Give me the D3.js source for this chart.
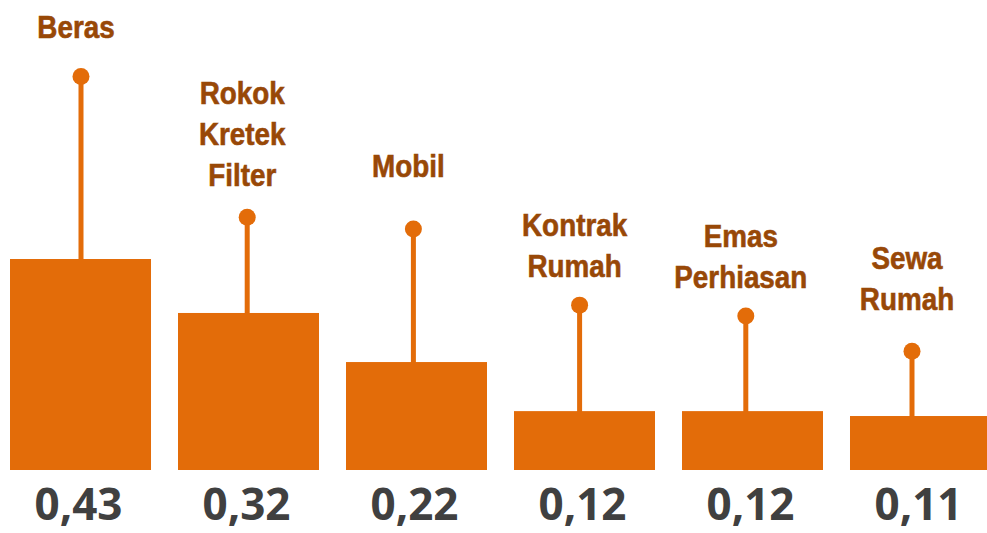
<!DOCTYPE html>
<html>
<head>
<meta charset="utf-8">
<script src="https://cdn.jsdelivr.net/npm/d3@7"></script>
<style>
  html, body { margin: 0; padding: 0; background: #fff; }
  svg { display: block; }
</style>
</head>
<body>
<svg id="chart"></svg>
<script>
// Constant Values
const width = 987;
const height = 533;

// Data
const categories = ["Beras", "Rokok Kretek Filter", "Mobil", "Kontrak Rumah", "Emas Perhiasan", "Sewa Rumah"];
const labelLines = [["Beras"], ["Rokok", "Kretek", "Filter"], ["Mobil"], ["Kontrak", "Rumah"], ["Emas", "Perhiasan"], ["Sewa", "Rumah"]];
const values = [0.43, 0.32, 0.22, 0.12, 0.12, 0.11];
const valueLabels = ["0,43", "0,32", "0,22", "0,12", "0,12", "0,11"];
// heights of the pin heads and of the label baselines, in the same units as values
const pinLevels = [0.802, 0.515, 0.491, 0.336, 0.314, 0.242];
const labelLevels = [0.88, 0.578, 0.597, 0.393, 0.371, 0.326];

const barColor = "#E36C09";
const labelColor = "#984807";
const valueColor = "#404040";

const svg = d3.select("#chart")
    .attr("width", width)
    .attr("height", height);

// Scales
const xScale = d3.scaleBand()
    .domain(categories)
    .range([10, 991])
    .paddingInner(0.1607)
    .paddingOuter(0);

const pinScale = d3.scalePoint()
    .domain(categories)
    .range([81, 912]);

const yScale = d3.scaleLinear()
    .domain([0, 0.43])
    .range([470, 259]);

const rows = categories.map((c, i) => ({
    cat: c, lines: labelLines[i], value: values[i], text: valueLabels[i],
    pin: pinLevels[i], label: labelLevels[i]
}));

// Pins
svg.selectAll(".pin")
    .data(rows)
    .enter()
    .append("line")
    .attr("class", "pin")
    .attr("x1", d => pinScale(d.cat))
    .attr("x2", d => pinScale(d.cat))
    .attr("y1", d => yScale(d.pin))
    .attr("y2", d => yScale(d.value) + 2)
    .attr("stroke", barColor)
    .attr("stroke-width", 5);

svg.selectAll(".pin-head")
    .data(rows)
    .enter()
    .append("circle")
    .attr("class", "pin-head")
    .attr("cx", d => pinScale(d.cat))
    .attr("cy", d => yScale(d.pin))
    .attr("r", 8.5)
    .attr("fill", barColor);

// Bars
svg.selectAll(".bar")
    .data(rows)
    .enter()
    .append("rect")
    .attr("class", "bar")
    .attr("x", d => xScale(d.cat))
    .attr("y", d => yScale(d.value))
    .attr("width", xScale.bandwidth())
    .attr("height", d => yScale(0) - yScale(d.value))
    .attr("fill", barColor);

// Category labels (narrow bold look: squeeze the sans horizontally)
const lineHeight = 41;
svg.selectAll(".cat-label")
    .data(rows)
    .enter()
    .append("text")
    .attr("class", "cat-label")
    .attr("transform", d => `translate(${pinScale(d.cat) - 5}, 0) scale(0.87, 1)`)
    .attr("text-anchor", "middle")
    .attr("font-family", "'Liberation Sans', Arial, sans-serif")
    .attr("font-weight", "bold")
    .attr("font-size", 32)
    .attr("fill", labelColor)
    .attr("stroke", labelColor)
    .attr("stroke-width", 0.6)
    .each(function (d) {
        const n = d.lines.length;
        d3.select(this).selectAll("tspan")
            .data(d.lines)
            .enter()
            .append("tspan")
            .attr("x", 0)
            .attr("y", (t, j) => yScale(d.label) - (n - 1 - j) * lineHeight)
            .text(t => t);
    });

// Value labels
svg.selectAll(".value-label")
    .data(rows)
    .enter()
    .append("text")
    .attr("class", "value-label")
    .attr("x", d => xScale(d.cat) + xScale.bandwidth() / 2 - 2)
    .attr("y", 520)
    .attr("text-anchor", "middle")
    .attr("font-family", "'Open Sans', sans-serif")
    .attr("font-weight", "bold")
    .attr("font-size", 44)
    .attr("fill", valueColor)
    .text(d => d.text);
</script>
</body>
</html>
